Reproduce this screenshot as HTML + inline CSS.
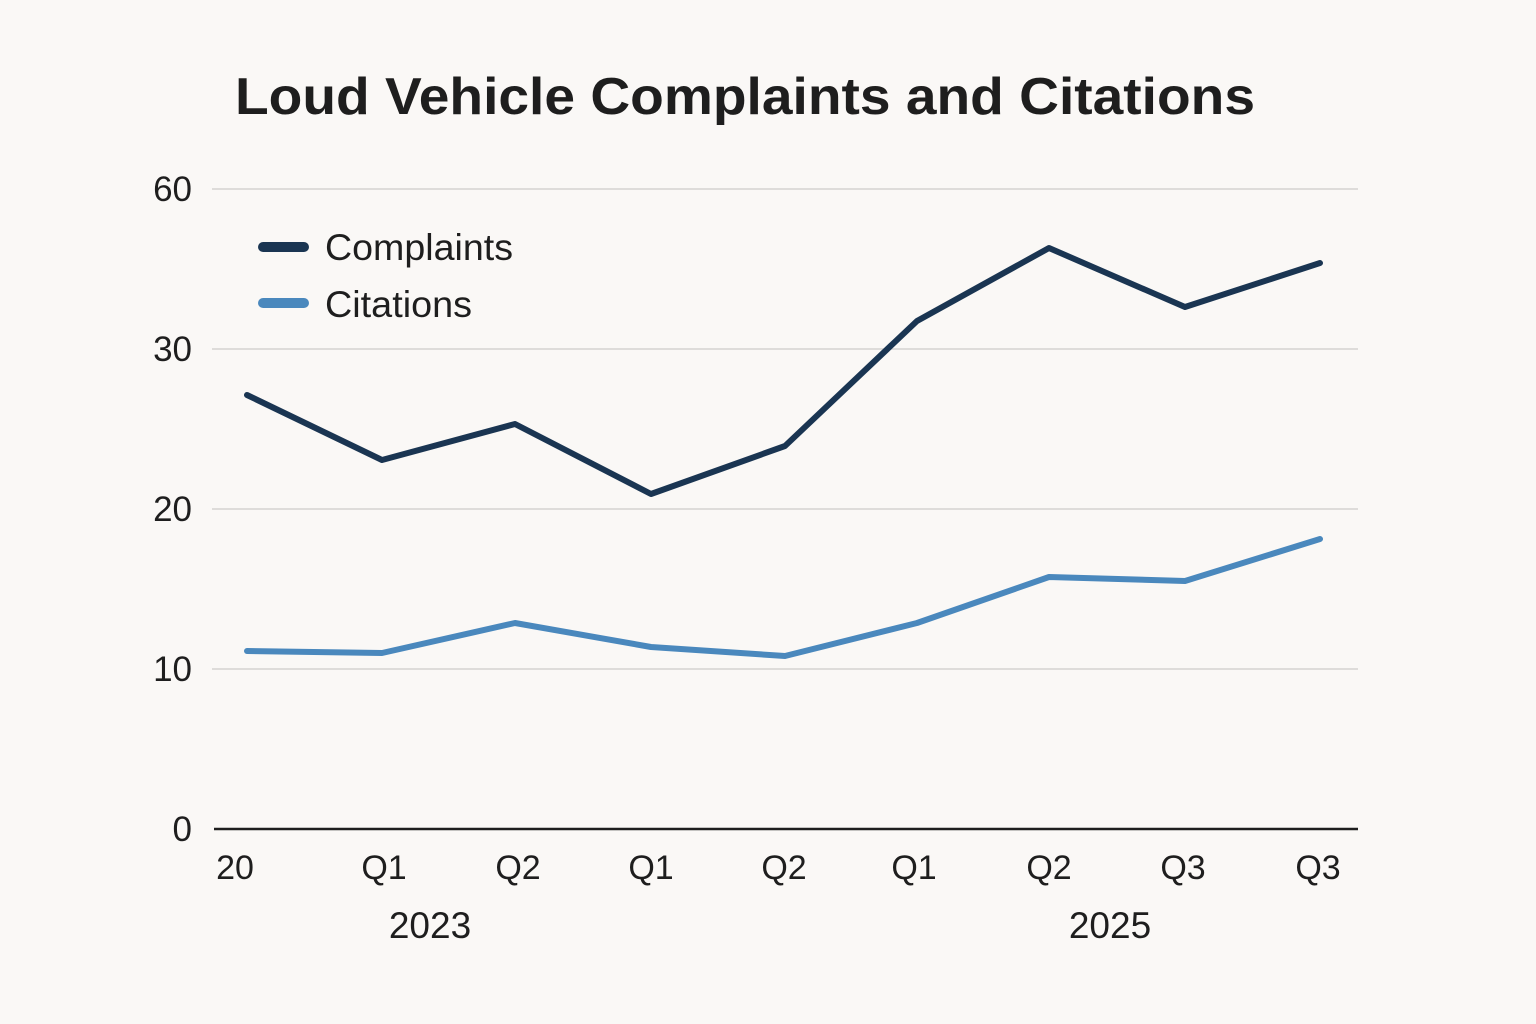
<!DOCTYPE html>
<html><head><meta charset="utf-8"><style>
html,body{margin:0;padding:0;background:#faf8f6;}
svg{display:block;}
text{font-family:"Liberation Sans",sans-serif;fill:#1e1e1e;}
</style></head><body>
<svg width="1536" height="1024" viewBox="0 0 1536 1024">
<rect width="1536" height="1024" fill="#faf8f6"/>
<text x="235" y="114" font-size="52" font-weight="bold" textLength="1020" lengthAdjust="spacingAndGlyphs" fill="#141414">Loud Vehicle Complaints and Citations</text>
<g stroke="#d4d2d0" stroke-width="1.5">
<line x1="212" y1="189" x2="1358" y2="189"/>
<line x1="212" y1="349" x2="1358" y2="349"/>
<line x1="212" y1="509" x2="1358" y2="509"/>
<line x1="212" y1="669" x2="1358" y2="669"/>
</g>
<line x1="214" y1="829" x2="1358" y2="829" stroke="#1e1e1e" stroke-width="2.5"/>
<g font-size="35" text-anchor="end">
<text x="192" y="201">60</text>
<text x="192" y="361">30</text>
<text x="192" y="521">20</text>
<text x="192" y="681">10</text>
<text x="192" y="841">0</text>
</g>
<g font-size="34" text-anchor="middle">
<text x="235" y="879">20</text>
<text x="384" y="879">Q1</text>
<text x="518" y="879">Q2</text>
<text x="651" y="879">Q1</text>
<text x="784" y="879">Q2</text>
<text x="914" y="879">Q1</text>
<text x="1049" y="879">Q2</text>
<text x="1183" y="879">Q3</text>
<text x="1318" y="879">Q3</text>
<text x="430" y="938" font-size="37">2023</text>
<text x="1110" y="938" font-size="37">2025</text>
</g>
<polyline fill="none" stroke="#1a3552" stroke-width="6" stroke-linejoin="round" stroke-linecap="round"
points="247,395 382,460 515,424 651,494 785,446 917,321 1049,248 1185,307 1320,263"/>
<polyline fill="none" stroke="#4a88bd" stroke-width="6" stroke-linejoin="round" stroke-linecap="round"
points="247,651 382,653 515,623 651,647 785,656 917,623 1049,577 1185,581 1320,539"/>
<line x1="263" y1="247" x2="304" y2="247" stroke="#1a3552" stroke-width="10" stroke-linecap="round"/>
<line x1="263" y1="303" x2="304" y2="303" stroke="#4a88bd" stroke-width="10" stroke-linecap="round"/>
<text x="325" y="260" font-size="37" textLength="188" lengthAdjust="spacingAndGlyphs">Complaints</text>
<text x="325" y="317" font-size="37" textLength="147" lengthAdjust="spacingAndGlyphs">Citations</text>
</svg>
</body></html>
